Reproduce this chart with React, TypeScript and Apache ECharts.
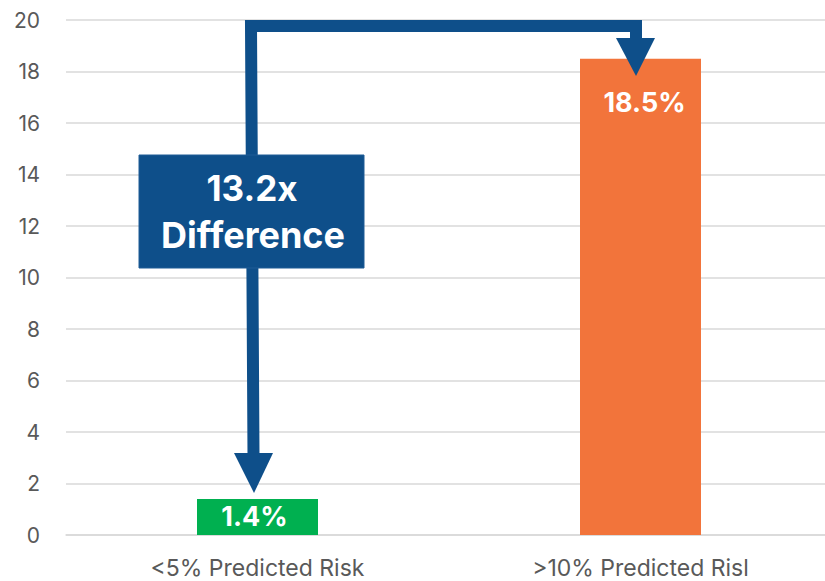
import React, { useEffect, useRef } from "react";
import * as echarts from "echarts";

const categories = ["<5% Predicted Risk", ">10% Predicted Risl"];
const values = [1.4, 18.5];
const barColors = ["#00b050", "#f2743b"];
const labelShiftX = [-3, 4];
const yTicks = { min: 0, max: 20, interval: 2 };
const calloutLines = ["13.2x", "Difference"];

const FONT = 'Inter, "Open Sans", "Liberation Sans", Arial, sans-serif';
const BLUE = "#0e4f8a";

export default function App() {
  const ref = useRef<HTMLDivElement>(null);

  useEffect(() => {
    if (!ref.current) return;
    const chart = echarts.init(ref.current, undefined, { renderer: "svg" });
    chart.setOption({
      animation: false,
      grid: { left: 66, width: 766, top: 20, bottom: 46, containLabel: false, outerBoundsMode: "none" },
      xAxis: {
        type: "category",
        data: categories,
        axisLine: { show: true, lineStyle: { color: "#d9d9d9", width: 1.5 } },
        axisTick: { show: false },
        axisLabel: { color: "#595959", fontSize: 23, fontFamily: FONT, margin: 21 },
      },
      yAxis: {
        type: "value",
        min: yTicks.min,
        max: yTicks.max,
        interval: yTicks.interval,
        axisLine: { show: false },
        axisTick: { show: false },
        splitLine: { lineStyle: { color: "#d9d9d9", width: 1.5 } },
        axisLabel: { color: "#595959", fontSize: 21, fontFamily: FONT, margin: 26 },
      },
      series: [
        {
          type: "bar",
          barWidth: 121,
          data: values.map((v, i) => ({
            value: v,
            itemStyle: { color: barColors[i] },
            label: {
              show: true,
              position: i === 0 ? "inside" : "insideTop",
              distance: i === 0 ? 0 : 30,
              offset: [labelShiftX[i], 0],
              formatter: "{c}%",
              color: "#ffffff",
              fontWeight: "bold",
              fontSize: 27,
              fontFamily: FONT,
            },
          })),
        },
      ],
      graphic: [
        {
          type: "polyline",
          shape: { points: [[253.5, 456], [251, 26], [636, 26], [636, 40]] },
          style: { stroke: BLUE, lineWidth: 12, fill: null, lineJoin: "miter", lineCap: "butt" },
          z: 10,
        },
        {
          type: "polygon",
          shape: { points: [[234, 453], [273, 453], [254, 493]] },
          style: { fill: BLUE },
          z: 10,
        },
        {
          type: "polygon",
          shape: { points: [[616, 38], [655, 38], [636, 76]] },
          style: { fill: BLUE },
          z: 10,
        },
        {
          type: "rect",
          shape: { x: 139, y: 155, width: 225, height: 113 },
          style: { fill: BLUE, stroke: "#1f5c96", lineWidth: 1 },
          z: 11,
        },
        {
          type: "text",
          x: 252,
          y: 188,
          style: {
            text: calloutLines[0],
            fill: "#ffffff",
            font: `bold 35px ${FONT}`,
            textAlign: "center",
            textVerticalAlign: "middle",
          },
          z: 12,
        },
        {
          type: "text",
          x: 253,
          y: 235,
          style: {
            text: calloutLines[1],
            fill: "#ffffff",
            font: `bold 36px ${FONT}`,
            textAlign: "center",
            textVerticalAlign: "middle",
          },
          z: 12,
        },
      ],
    });
    return () => chart.dispose();
  }, []);

  return <div ref={ref} style={{ width: 825, height: 581, position: "absolute", left: 0, top: 0 }} />;
}
